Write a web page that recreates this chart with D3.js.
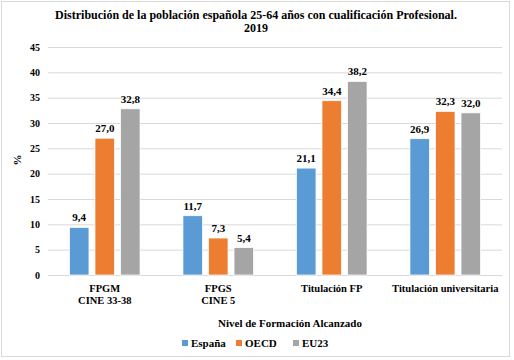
<!DOCTYPE html>
<html><head><meta charset="utf-8">
<script src="https://cdn.jsdelivr.net/npm/d3@7"></script>
<style>body{margin:0;background:#fff}svg{display:block}</style>
</head><body><svg id="c" width="514" height="360"></svg>
<script>
const categories = [["FPGM","CINE 33-38"],["FPGS","CINE 5"],["Titulación FP"],["Titulación universitaria"]];
const seriesNames = ["España","OECD","EU23"];
const espana = [9.4, 11.7, 21.1, 26.9];
const oecd = [27.0, 7.3, 34.4, 32.3];
const eu23 = [32.8, 5.4, 38.2, 32.0];
const yTicks = [0,5,10,15,20,25,30,35,40,45];
const colors = ["#5B9BD5","#ED7D31","#A5A5A5"];
const seriesValues = [espana, oecd, eu23];
const FONT = "'Liberation Serif', 'DejaVu Serif', serif";

const svg = d3.select("#c");
svg.append("rect").attr("x",1.5).attr("y",1.5).attr("width",508).attr("height",355)
  .attr("fill","#fff").attr("stroke","#d9d9d9");

const m = {l:48, r:502, t:47, b:275};
const y = d3.scaleLinear().domain([0,45]).range([m.b, m.t]);
const x0 = d3.scaleBand().domain(d3.range(categories.length)).range([m.l, m.r]);
const x1 = d3.scaleBand().domain(seriesNames).range([0, x0.bandwidth()]).paddingInner(0.235).paddingOuter(0.84);

svg.append("g").selectAll("line").data(yTicks).join("line")
  .attr("x1",m.l).attr("x2",m.r).attr("y1",d=>y(d)+0.5).attr("y2",d=>y(d)+0.5)
  .attr("stroke","#d9d9d9").attr("stroke-width",1);

const ya = svg.append("g").attr("transform",`translate(${m.l-8},0)`)
  .call(d3.axisLeft(y).tickValues(yTicks).tickSize(0).tickPadding(0));
ya.select(".domain").remove();
ya.attr("font-family",null);
ya.selectAll("text").attr("font-size",10).attr("fill","#000");

svg.append("text").attr("transform","translate(21,160) rotate(-90)").attr("text-anchor","middle")
  .attr("font-size",11).text("%");

const groups = svg.append("g").selectAll("g").data(categories).join("g")
  .attr("transform",(d,i)=>`translate(${x0(i)},0)`);
groups.each(function(cat,i){
  const g = d3.select(this);
  seriesNames.forEach((s,j)=>{
    const v = seriesValues[j][i];
    g.append("rect").attr("x",x1(s)).attr("width",x1.bandwidth())
      .attr("y",y(v)).attr("height",y(0)-y(v))
      .attr("fill",colors[j]).attr("stroke","#fff").attr("stroke-width",0.75);
    g.append("text").attr("x",x1(s)+x1.bandwidth()/2).attr("y",y(v)-6)
      .attr("text-anchor","middle").attr("font-size",11)
      .text(d3.format(".1f")(v).replace(".",","));
  });
  cat.forEach((line,k)=>{
    g.append("text").attr("x",x0.bandwidth()/2).attr("y",292+k*12)
      .attr("text-anchor","middle").attr("font-size",10.5).text(line);
  });
});

svg.append("text").attr("x",256).attr("y",19).attr("text-anchor","middle").attr("font-size",12)
  .text("Distribución de la población española 25-64 años con cualificación Profesional.");
svg.append("text").attr("x",256).attr("y",32).attr("text-anchor","middle").attr("font-size",12).text("2019");

svg.append("text").attr("x",290).attr("y",327).attr("text-anchor","middle").attr("font-size",11)
  .text("Nivel de Formación Alcanzado");

const legX = [182, 236, 293];
seriesNames.forEach((s,j)=>{
  svg.append("rect").attr("x",legX[j]).attr("y",340).attr("width",6).attr("height",6).attr("fill",colors[j]);
  svg.append("text").attr("x",legX[j]+9).attr("y",347).attr("font-size",11).text(s);
});

svg.selectAll("text").style("font-family",FONT).style("font-weight","bold").style("fill","#000");
</script></body></html>
